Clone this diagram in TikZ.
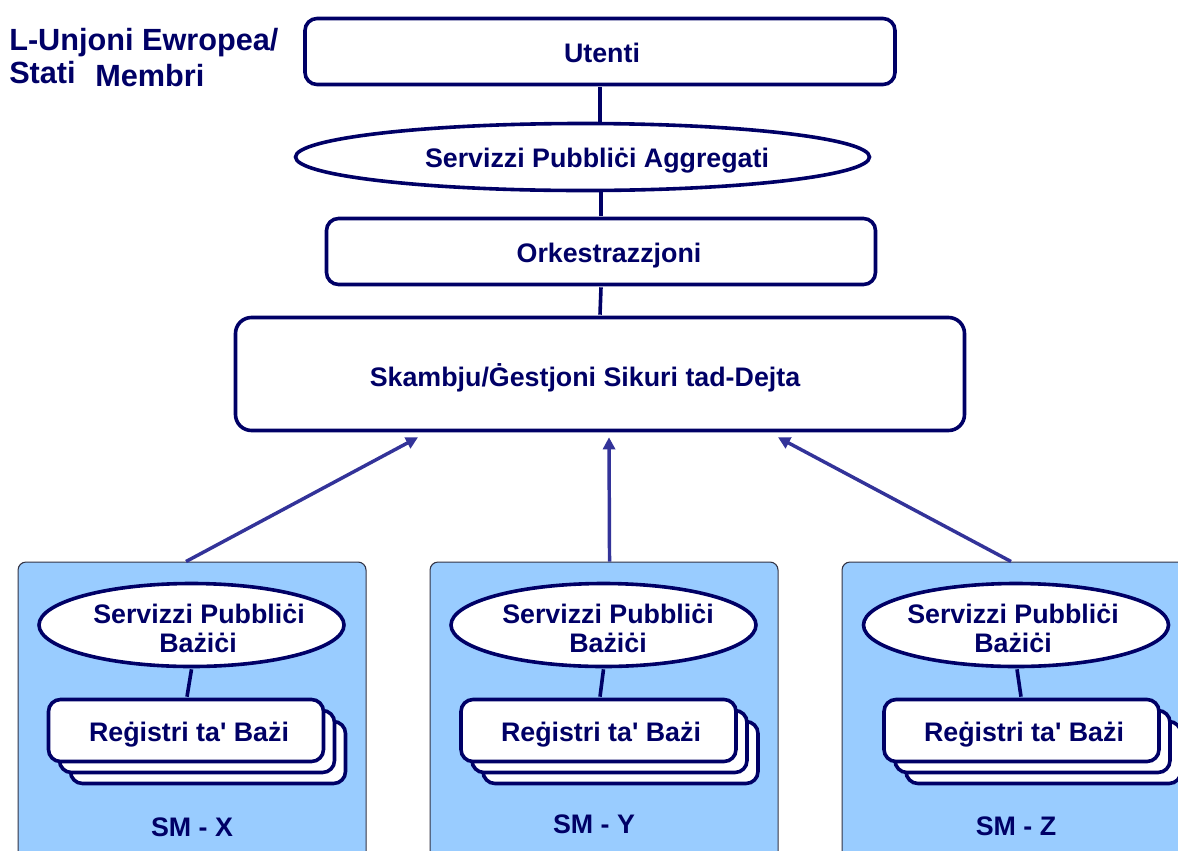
\documentclass[tikz,border=0pt]{standalone}
\usepackage{fontspec}
\setmainfont{Liberation Sans}[Ligatures=TeXOff]
\usetikzlibrary{shapes.geometric,calc,arrows.meta}
\definecolor{navy}{HTML}{000066}
\definecolor{arrowblue}{HTML}{333399}
\definecolor{panel}{HTML}{99CCFF}
\definecolor{panelline}{HTML}{333344}
\tikzset{
  x=0.75pt,y=-0.75pt,
  size/.style 2 args={minimum width=#1*0.75pt,minimum height=#2*0.75pt},
  lbl/.style={font=\fontsize{20.1pt}{23pt}\bfseries\selectfont,text=navy,inner sep=0pt},
  ttl/.style={font=\fontsize{23pt}{26pt}\bfseries\selectfont,text=navy,inner sep=0pt,anchor=base west},
  rbox/.style={draw=navy,fill=white,line width=2.7pt,rounded corners=9pt,inner sep=0pt},
  oval/.style={ellipse,draw=navy,fill=white,line width=2.7pt,inner sep=0pt},
  panelbox/.style={draw=panelline,fill=panel,line width=0.8pt,rounded corners=6pt,inner sep=0pt},
  link/.style={draw=navy,line width=2.7pt},
  flow/.style={draw=arrowblue,line width=2.6pt,-{Triangle[length=9pt,width=9pt]}}
}
\begin{document}
\begin{tikzpicture}
\useasboundingbox (0,0) rectangle (1178,850);
\clip (0,0) rectangle (1178,850);
% panels
\node[panelbox,size={348}{360},anchor=north west] (px) at (17.5,561.5) {};
\node[panelbox,size={348}{360},anchor=north west] (py) at (429.5,561.5) {};
\node[panelbox,size={348}{360},anchor=north west] (pz) at (841.5,561.5) {};
% top stack
\node[rbox,size={590}{66}] (utenti) at (600,51.5) {};
\node[lbl] (utentit) at (602,53) {Utenti};
\node[oval,size={574}{67}] (agg) at (582.5,157) {};
\node[lbl] (aggt) at (597,161) {Servizzi Pubbliċi Aggregati};
\node[rbox,size={549}{66}] (ork) at (601,251.5) {};
\node[lbl] (orkt) at (609,256) {Orkestrazzjoni};
\node[rbox,size={729}{113},rounded corners=12pt] (skam) at (600,374) {};
\node[lbl] (skamt) at (585,378) {Skambju/Ġestjoni Sikuri tad-Dejta};
% side title
\node[ttl] (t1) at (9,50) {L-Unjoni Ewropea/};
\node[ttl] (t2) at (9,83) {Stati};
\node[ttl] (t3) at (95,86) {Membri};
% column X
\node[rbox,size={275}{62}] (x3) at (208,752.5) {};
\node[rbox,size={275}{62}] (x2) at (197,741.5) {};
\node[rbox,size={275}{62}] (x1) at (186,730.5) {};
\node[oval,size={305}{83}] (ex) at (191.5,625) {};
\node[lbl] (ext1) at (199,614) {Servizzi Pubbliċi};
\node[lbl] (ext2) at (198,643) {Bażiċi};
\node[lbl] (xt) at (189,735) {Reġistri ta' Bażi};
\node[lbl] (sx) at (192,827) {SM - X};
% column Y
\node[rbox,size={275}{62}] (y3) at (620.5,752.5) {};
\node[rbox,size={275}{62}] (y2) at (609.5,741.5) {};
\node[rbox,size={275}{62}] (y1) at (598.5,730.5) {};
\node[oval,size={305}{83}] (ey) at (603.5,625) {};
\node[lbl] (eyt1) at (608,614) {Servizzi Pubbliċi};
\node[lbl] (eyt2) at (608,643) {Bażiċi};
\node[lbl] (yt) at (601,735) {Reġistri ta' Bażi};
\node[lbl] (sy) at (594,824) {SM - Y};
% column Z
\node[rbox,size={275}{62}] (z3) at (1043.5,752.5) {};
\node[rbox,size={275}{62}] (z2) at (1032.5,741.5) {};
\node[rbox,size={275}{62}] (z1) at (1021.5,730.5) {};
\node[oval,size={305}{83}] (ez) at (1016,625) {};
\node[lbl] (ezt1) at (1013,614) {Servizzi Pubbliċi};
\node[lbl] (ezt2) at (1013,643) {Bażiċi};
\node[lbl] (zt) at (1024,735) {Reġistri ta' Bażi};
\node[lbl] (sz) at (1016,826) {SM - Z};
% connectors
\draw[link] ($(ex.south)+(0,1)$) -- ($(x1.north)+(1,-1)$);
\draw[link] ($(ey.south)+(0,1)$) -- ($(y1.north)+(1.5,-1)$);
\draw[link] ($(ez.south)+(1,1)$) -- ($(z1.north)+(-0.5,-1)$);
\draw[link] ($(utenti.south)+(0,1)$) -- ($(agg.north)+(17.5,1)$);
\draw[link] ($(agg.south)+(18.5,-1)$) -- ($(ork.north)+(0,-1)$);
\draw[link] ($(ork.south)+(0,1)$) -- ($(skam.north)+(0,-1)$);
\draw[flow] ($(px.north)+(-6,0)$) -- ($(skam.south)+(-182,5)$);
\draw[flow] ($(py.north)+(5.5,0)$) -- ($(skam.south)+(9,5)$);
\draw[flow] ($(pz.north)+(-5,0)$) -- ($(skam.south)+(178,5)$);
\end{tikzpicture}
\end{document}
